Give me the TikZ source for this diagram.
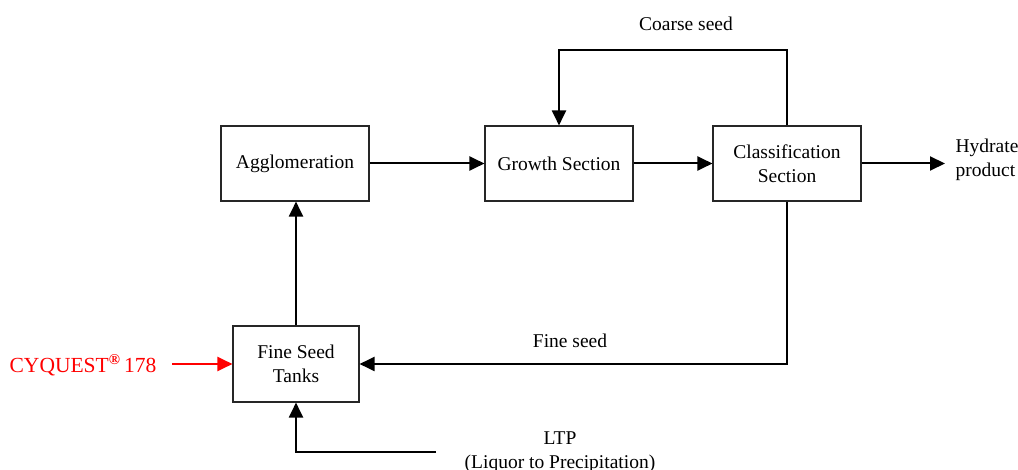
\documentclass[tikz,border=0pt]{standalone}
\usepackage{fontspec}
\setmainfont{Liberation Serif}
\usepackage{xcolor}
\usetikzlibrary{arrows.meta}

\begin{document}
\begin{tikzpicture}[x=1pt,y=-1pt,
  font=\fontsize{19.5}{23.5}\selectfont,
  blockbox/.style={draw=black!85, line width=1.1pt, align=center, inner sep=0pt},
  flow/.style={line width=2pt, -{Triangle[length=15pt,width=14pt]}}]
\useasboundingbox (0,0) rectangle (1018,470);
% блоки
\node [blockbox, minimum width=148, minimum height=75] (agg) at (295,163.5) {Agglomeration};
\node [blockbox, minimum width=148, minimum height=75] (grow) at (559,163.5) {Growth Section};
\node [blockbox, minimum width=148, minimum height=75] (class) at (787,163.5) {Classification\\Section};
\node [blockbox, minimum width=126, minimum height=76] (fst) at (296,364) {Fine Seed\\Tanks};
% подписи
\node (coarse) at (686,24) {Coarse seed};
\node (fine) at (570,341) {Fine seed};
\node [align=left] (hyd) at (987,160) {Hydrate\\product};
\node [red, font=\fontsize{21.5}{25}\selectfont] (cyq) at (83,365) {CYQUEST\textsuperscript{\textbf{\textregistered}}\,178};
\node [align=center] (ltp) at (560,452) {LTP\\(Liquor to Precipitation)};
\coordinate (hydend) at (945,163.5);
\coordinate (cyqstart) at (172,364);
\coordinate (ltpstart) at (436,452);
% стрелки
\draw [flow] (agg) -- (grow);
\draw [flow] (grow) -- (class);
\draw [flow] (class) -- (hydend);
\draw [flow] (fst.north) -- (fst.north |- agg.south);
\draw [flow] (class.north) |- (559,50) -- (grow.north);
\draw [flow] (class.south) |- (fst.east);
\draw [flow] (ltpstart) -| (fst.south);
\draw [flow, red] (cyqstart) -- (fst.west);
\end{tikzpicture}
\end{document}
